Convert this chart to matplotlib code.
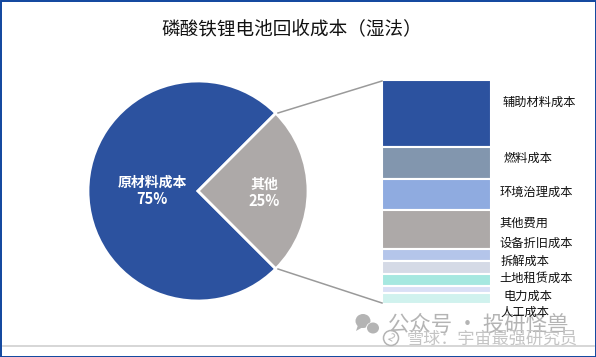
import matplotlib
matplotlib.use("Agg")
import matplotlib.pyplot as plt
from matplotlib.patches import Ellipse, Polygon, Rectangle

plt.rcParams['font.family'] = ['Noto Sans CJK SC', 'DejaVu Sans']

W, H = 596, 357

title = "磷酸铁锂电池回收成本（湿法）"

pie_labels = ["原材料成本", "其他"]
pie_values = [75, 25]
pie_colors = ["#2C529F", "#ADA9A8"]

bar_labels = ["辅助材料成本", "燃料成本", "环境治理成本", "其他费用", "设备折旧成本",
              "拆解成本", "土地租赁成本", "电力成本", "人工成本"]
bar_values = [7.5, 3.5, 3.5, 4.4, 1.25, 1.45, 1.4, 0.75, 1.25]
bar_colors = ["#2C529F", "#8296AE", "#8FABE0", "#ADA9A8", "#B4C5EA",
              "#D5DAE6", "#A6E8E0", "#DAE0F6", "#D0F2EE"]
bar_label_x = [503, 504, 500, 499, 499, 501, 499, 503, 500]
bar_label_y = [102, 158, 192, 223, 243, 261, 278, 296, 312]


def px_axes(fig, x0, y0, x1, y1):
    # pixel box measured from the top left of the picture
    return fig.add_axes([x0 / W, 1 - y1 / H, (x1 - x0) / W, (y1 - y0) / H])


fig = plt.figure(figsize=(W / 100, H / 100), dpi=100, facecolor="white")

# everything loose (title, labels, watermark) goes on a full pixel overlay
bg = fig.add_axes([0, 0, 1, 1], zorder=0)
bg.set_xlim(0, W)
bg.set_ylim(H, 0)
bg.axis("off")

top = fig.add_axes([0, 0, 1, 1], zorder=5)
top.set_xlim(0, W)
top.set_ylim(H, 0)
top.axis("off")
top.patch.set_alpha(0)

# pie
ax = px_axes(fig, 198 - 110, 191 - 110, 198 + 110, 191 + 110)
ax.set_zorder(2)
wedges, _ = ax.pie(pie_values, colors=pie_colors, startangle=-45, counterclock=False,
                   radius=1.0, wedgeprops=dict(edgecolor="white", linewidth=2))
ax.set_xlim(-1, 1)
ax.set_ylim(-1, 1)

# stacked bar, first category on top
bx = px_axes(fig, 382, 80, 491, 304)
bx.set_zorder(2)
bottom = 0
for v, c in zip(bar_values, bar_colors):
    bx.bar(0, v, bottom=bottom, width=1, color=c, edgecolor="white", linewidth=1.5)
    bottom += v
bx.set_xlim(-0.5, 0.5)
bx.set_ylim(bottom, 0)
bx.axis("off")

# connector lines from the 其他 slice to the bar
top.plot([278, 382], [113, 81], color="#9A9A9A", lw=1.1)
top.plot([278, 382], [269, 303], color="#9A9A9A", lw=1.1)

top.text(292, 29, title, fontsize=13.4, ha="center", va="center", color="#111111")

top.text(152, 183, pie_labels[0], fontsize=10, fontweight="bold", color="white",
         ha="center", va="center")
top.text(152, 199, "75%", fontsize=10.5, fontweight="bold", color="white",
         ha="center", va="center")
top.text(264, 185, pie_labels[1], fontsize=10, fontweight="bold", color="white",
         ha="center", va="center")
top.text(264, 201, "25%", fontsize=10.5, fontweight="bold", color="white",
         ha="center", va="center")

# labels stay above the watermark
for name, x, y in zip(bar_labels, bar_label_x, bar_label_y):
    top.text(x, y, name, fontsize=8.8, ha="left", va="center", color="#111111", zorder=10)

# watermark
gray = "#B4B4B4"
top.add_patch(Ellipse((363, 321), 15, 14, color=gray, lw=0))
top.add_patch(Polygon([[358, 325], [356, 331], [363, 327]], color=gray, lw=0))
top.add_patch(Ellipse((373, 328), 14, 12, color="white", lw=0))
top.add_patch(Ellipse((373, 328), 12, 11, color=gray, lw=0))
top.text(388, 325, "公众号 · 投研怪兽", fontsize=15.4, color=gray, ha="left", va="center", zorder=4)
top.add_patch(Ellipse((391, 338), 15, 15, facecolor="white", edgecolor=gray, lw=1.1))
top.text(391, 338, "2", fontsize=7.5, color=gray, ha="center", va="center", rotation=-30)
top.text(407, 339, "雪球：宇宙最强研究员", fontsize=12.3, color="#C4C4C4", ha="left", va="center", zorder=5)

# rule under the chart and picture frame
bg.plot([3, W - 2], [345.5, 345.5], color="#CFCFCF", lw=1.2)
top.add_patch(Rectangle((0.5, 0.5), W - 1, H - 1, fill=False, edgecolor="#0F459E", lw=1.4))

fig.savefig("out.png", dpi=100)
